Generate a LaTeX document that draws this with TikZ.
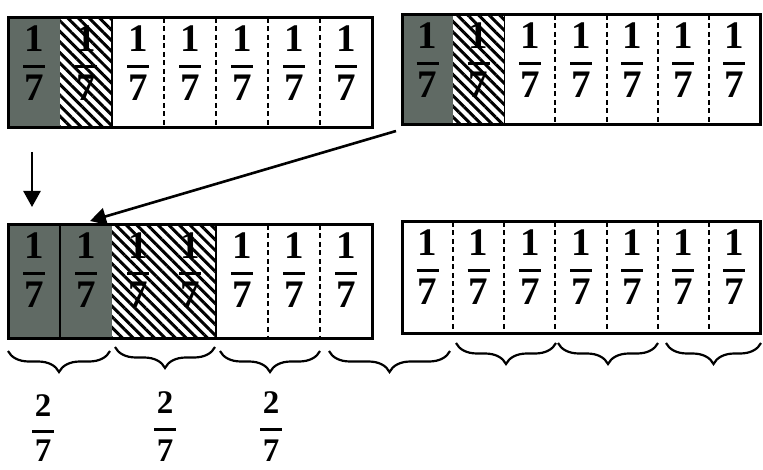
\documentclass[tikz,border=0pt]{standalone}
\usepackage{fontspec}
\setmainfont{Liberation Serif}
\usetikzlibrary{patterns.meta,decorations.pathreplacing,arrows.meta}
\definecolor{darkcell}{RGB}{96,106,100}
\tikzset{
  dig/.style={inner sep=0pt,font=\fontsize{39}{41}\selectfont\bfseries},
  digb/.style={inner sep=0pt,font=\fontsize{33}{35}\selectfont\bfseries},
  fracbar/.style={line width=3pt},
  stripbox/.style={draw,line width=3pt,inner sep=0pt,rectangle},
  darkfill/.style={fill=darkcell},
  hatchfill/.style={pattern={Lines[angle=-45,distance=7.5pt,line width=3pt]}},
  dashdiv/.style={line width=2pt,dash pattern=on 5pt off 3.5pt},
  soliddiv/.style={line width=1.4pt},
  arr/.style={line width=2.6pt,-{Triangle[width=17pt,length=16pt]}},
  brc/.style={line width=2.2pt,decorate,decoration={brace,mirror,amplitude=21pt}},
}
% #1 name, #2 x0, #3 top, #4 x1, #5 bottom, #6 dark cells, #7 hatched cells
\newcommand\mystrip[7]{%
  \pgfmathsetmacro\cw{(#4-#2)/7}%
  \pgfmathtruncatemacro\nh{#6+#7}%
  \foreach \i in {1,...,7}{%
    \pgfmathsetmacro\xl{#2+(\i-1)*\cw}%
    \pgfmathsetmacro\xr{#2+\i*\cw}%
    \ifnum\i>#6\relax
      \ifnum\i>\nh\relax\else
        \fill[hatchfill] (\xl,#3) rectangle (\xr,#5);
      \fi
    \else
      \fill[darkfill] (\xl,#3) rectangle (\xr,#5);
    \fi
  }%
  \foreach \i in {1,...,6}{%
    \pgfmathsetmacro\xd{#2+\i*\cw}%
    \ifnum\i>\nh\relax
      \draw[dashdiv] (\xd,#3) -- (\xd,#5);
    \else
      \ifnum\i<#6\relax
        \draw[soliddiv] (\xd,#3) -- (\xd,#5);
      \else
        \ifnum\i=\nh\relax
          \draw[soliddiv] (\xd,#3) -- (\xd,#5);
        \fi
      \fi
    \fi
  }%
  \pgfmathsetmacro\bw{#4-#2}%
  \pgfmathsetmacro\bh{#5-#3}%
  \node[stripbox,minimum width=\bw pt,minimum height=\bh pt] (#1) at ({(#2+#4)/2},{(#3+#5)/2}) {};
  \foreach \i in {1,...,7}{%
    \pgfmathsetmacro\xc{#2+(\i-0.5)*\cw}%
    \node[dig] (#1-\i-n) at (\xc,#3+21) {1};
    \draw[fracbar] (\xc-11,#3+49) -- (\xc+11,#3+49);
    \node[dig] (#1-\i-d) at (\xc,#3+70) {7};
  }%
}
\begin{document}
\begin{tikzpicture}[x=1pt,y=-1pt]
\useasboundingbox (0,0) rectangle (763,470);

\mystrip{TL}{8}{18}{372}{128}{1}{1}
\mystrip{TR}{402}{15}{760}{125}{1}{1}
\mystrip{BL}{8}{225}{372}{338}{2}{2}
\mystrip{BR}{402}{222}{760}{333}{0}{0}

% arrows
\coordinate (dA) at (32,152);
\coordinate (dB) at (32,207);
\draw[arr] (dA) -- (dB);
\coordinate (gA) at (396,131);
\coordinate (gB) at (90,221);
\draw[arr] (gA) -- (gB);

% braces
\draw[brc] (8,351) -- (110,351);
\draw[brc] (115,347) -- (215,347);
\draw[brc] (220,351) -- (320,351);
\draw[brc] (329,351) -- (450,351);
\draw[brc] (456,343) -- (556,343);
\draw[brc] (558,343) -- (658,343);
\draw[brc] (666,343) -- (761,343);

% results
\node[digb] (r1n) at (43,406) {2};
\draw[fracbar] (32,431) -- (54,431);
\node[digb] (r1d) at (43,451) {7};
\node[digb] (r2n) at (165,403) {2};
\draw[fracbar] (154,429) -- (176,429);
\node[digb] (r2d) at (165,451) {7};
\node[digb] (r3n) at (271,403) {2};
\draw[fracbar] (260,429) -- (282,429);
\node[digb] (r3d) at (271,451) {7};
\end{tikzpicture}
\end{document}
